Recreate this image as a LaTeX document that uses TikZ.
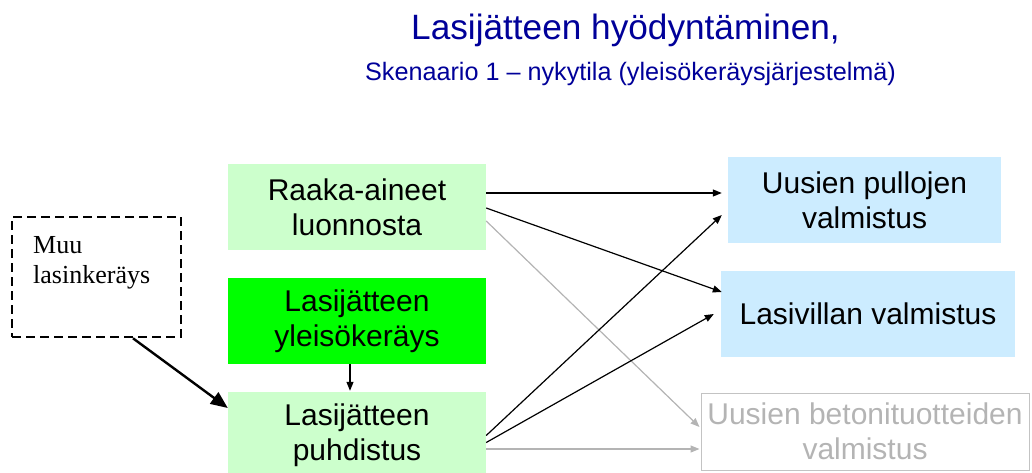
\documentclass[tikz,border=0pt]{standalone}
\usepackage{fontspec}
\setmainfont{Liberation Sans}
\newfontfamily\serifrm{Liberation Serif}
\usetikzlibrary{arrows.meta,calc}
\definecolor{titleblue}{HTML}{000099}
\definecolor{palegreen}{HTML}{CCFFCC}
\definecolor{brightgreen}{HTML}{00FF00}
\definecolor{paleblue}{HTML}{CCECFF}
\definecolor{fadegray}{HTML}{B4B4B4}
\begin{document}
\begin{tikzpicture}[x=1pt,y=-1pt,
  box/.style={minimum width=258pt,minimum height=86pt,inner sep=0pt,align=center,
    font=\fontsize{30}{35}\selectfont},
  flow/.style={-{Triangle[length=9pt,width=7pt]},line width=1.2pt},
  faint/.style={flow,draw=fadegray,fill=fadegray},
  bigflow/.style={-{Triangle[length=17pt,width=14pt]},line width=2.4pt}]
  \useasboundingbox (0,0) rectangle (1032,472);
  \clip (0,0) rectangle (1032,472);
  % title
  \node[anchor=base,text=titleblue,font=\fontsize{35.2}{40}\selectfont] (title) at (625.5,39) {Lasijätteen hyödyntäminen,};
  \node[anchor=base,text=titleblue,font=\fontsize{25.2}{28}\selectfont] (subtitle) at (630.5,80) {Skenaario 1 – nykytila (yleisökeräysjärjestelmä)};
  % left column
  \node[draw,line width=2.6pt,dash pattern=on 9pt off 5pt,minimum width=169pt,minimum height=120pt] (muu) at (96.5,277) {};
  \node[anchor=north west,inner sep=0pt,align=left,font=\serifrm\fontsize{26}{30}\selectfont] (muutext) at (33,236) {Muu\\lasinkeräys};
  \node[box,fill=palegreen] (raaka) at (357,207) {Raaka-aineet\\luonnosta};
  \node[box,fill=brightgreen] (yleiso) at (357,321) {Lasijätteen\\yleisökeräys};
  \node[box,fill=palegreen,minimum height=87pt] (puhdistus) at (357,435.5) {Lasijätteen\\puhdistus};
  % right column
  \node[box,fill=paleblue,minimum width=273pt] (pullot) at (864.5,200) {Uusien pullojen\\valmistus};
  \node[box,fill=paleblue,minimum width=294pt] (villa) at (868,314) {Lasivillan valmistus};
  \node[box,draw=fadegray!80,line width=1pt,text=fadegray,minimum width=328pt,minimum height=77pt] (betoni) at (865,431.5) {Uusien betonituotteiden\\valmistus};
  % connectors
  \draw[flow] ($(raaka.east)+(0,-14)$) -- ($(pullot.west)+(-6,-7)$);
  \draw[flow] ($(raaka.east)+(0,1)$) -- ($(villa.west)+(1,-22)$);
  \draw[faint] ($(raaka.east)+(0,14)$) -- ($(betoni.west)+(-1,-4.5)$);
  \draw[flow] (puhdistus.east) -- ($(pullot.west)+(-6,15)$);
  \draw[flow] ($(puhdistus.east)+(0,7)$) -- ($(villa.west)+(-7,0)$);
  \draw[faint] ($(puhdistus.east)+(0,13.5)$) -- ($(betoni.west)+(-1,17.5)$);
  \draw[flow] ($(yleiso.south)+(-7,0)$) -- ($(puhdistus.north)+(-7,-1)$);
  \draw[bigflow] ($(muu.south)+(36.5,0)$) -- ($(puhdistus.west)+(0,-27.5)$);
\end{tikzpicture}
\end{document}
